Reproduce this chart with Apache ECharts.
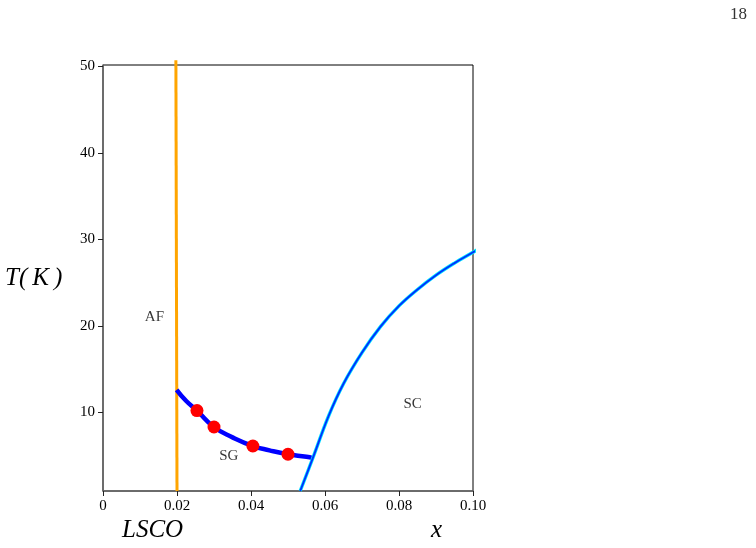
<!DOCTYPE html>
<html>
<head>
<meta charset="utf-8">
<script src="https://cdn.jsdelivr.net/npm/echarts@6/dist/echarts.min.js"></script>
<style>
html,body{margin:0;padding:0;background:#fff;}
#c{width:756px;height:548px;}
</style>
</head>
<body>
<div id="c"></div>
<script>
// x ticks and y ticks
const xTicks = [0, 0.02, 0.04, 0.06, 0.08, 0.10];
const yTicks = [10, 20, 30, 40, 50];

// AF boundary (orange, near-vertical line)
const afLine = [[0.0200, 0.9], [0.0197, 50.7]];

// SG boundary curve (blue)
const sgCurve = [
  [0.0199, 12.6], [0.0225, 11.3], [0.0254, 10.2], [0.0300, 8.3],
  [0.0350, 7.1], [0.0405, 6.1], [0.0450, 5.6], [0.0500, 5.15],
  [0.0550, 4.85], [0.0567, 4.7]
];

// SG measured points (red)
const sgPoints = [[0.0254, 10.2], [0.0300, 8.3], [0.0405, 6.1], [0.0500, 5.15]];

// SC boundary curve
const scCurve = [
  [0.0533, 0.9], [0.0567, 4.7], [0.0610, 9.6], [0.0650, 13.3],
  [0.0700, 16.9], [0.0750, 19.9], [0.0800, 22.3], [0.0850, 24.2],
  [0.0900, 25.85], [0.0950, 27.25], [0.1000, 28.5], [0.1017, 28.95]
];

// region labels
const regionLabels = [
  {name: 'AF', value: [0.0139, 21.0]},
  {name: 'SG', value: [0.0340, 4.9]},
  {name: 'SC', value: [0.0837, 10.95]}
];

const serif = '"Liberation Serif", "DejaVu Serif", serif';
const chart = echarts.init(document.getElementById('c'));
chart.setOption({
  animation: false,
  backgroundColor: '#fff',
  grid: {left: 103, right: 283, top: 65, bottom: 57, show: true, borderColor: '#000', borderWidth: 1, backgroundColor: 'transparent'},
  xAxis: {
    type: 'value', min: 0, max: 0.10, interval: 0.02,
    axisLine: {show: true, lineStyle: {color: '#666', width: 1.5}},
    axisTick: {show: true, length: 5, lineStyle: {color: '#222'}},
    splitLine: {show: false},
    axisLabel: {fontFamily: serif, fontSize: 15, color: '#000', margin: 8,
      formatter: v => (Math.abs(v) < 1e-9 ? '0' : v.toFixed(2))}
  },
  yAxis: {
    type: 'value', min: 0.9, max: 50.15,
    axisLine: {show: true, lineStyle: {color: '#666', width: 1.5}},
    axisTick: {show: true, length: 5, customValues: yTicks, lineStyle: {color: '#222'}},
    splitLine: {show: false},
    axisLabel: {fontFamily: serif, fontSize: 15, color: '#000', margin: 8, customValues: yTicks}
  },
  series: [
    {type: 'line', data: afLine, showSymbol: false, clip: false,
      lineStyle: {color: '#ffa500', width: 3}, z: 3},
    {type: 'line', data: sgCurve, showSymbol: false, smooth: true, clip: false,
      lineStyle: {color: '#0000ff', width: 4.5}, z: 4},
    {type: 'line', data: scCurve, showSymbol: false, smooth: 0.4, clip: false,
      lineStyle: {color: '#00e5ff', width: 3.4}, z: 5},
    {type: 'line', data: scCurve, showSymbol: false, smooth: 0.4, clip: false,
      lineStyle: {color: '#0030ff', width: 1.9}, z: 6},
    {type: 'scatter', data: sgPoints, symbolSize: 13,
      itemStyle: {color: '#ff0000', opacity: 1}, z: 7},
    {type: 'scatter', data: regionLabels, symbolSize: 0, z: 8,
      label: {show: true, position: 'inside', formatter: p => p.name,
        fontFamily: serif, fontSize: 15, color: '#000'}}
  ],
  graphic: [
    {type: 'text', left: 5, top: 266, style: {text: 'T(\u2009K\u2009)', font: 'italic 25px ' + serif, fill: '#000'}},
    {type: 'text', left: 122, top: 518, style: {text: 'LSCO', font: 'italic 25px ' + serif, fill: '#000'}},
    {type: 'text', left: 431, top: 518, style: {text: 'x', font: 'italic 25px ' + serif, fill: '#000'}},
    {type: 'text', left: 730, top: 6, style: {text: '18', font: '17px ' + serif, fill: '#333'}}
  ]
});
</script>
</body>
</html>
